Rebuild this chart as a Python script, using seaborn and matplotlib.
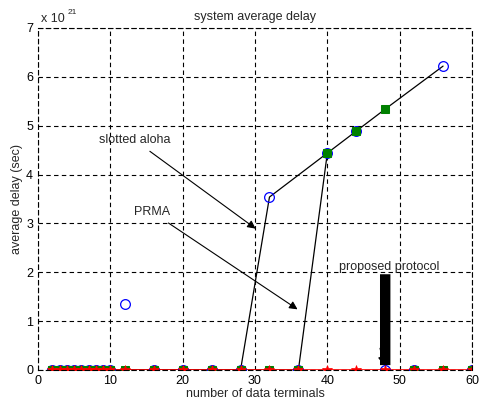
import matplotlib
matplotlib.use("Agg")
import matplotlib.pyplot as plt
import seaborn as sns

# Data (delay in units of 1e21 s)
terminals = [2, 3, 4, 5, 6, 7, 8, 9, 10, 12, 16, 20, 24, 28, 32, 36, 40, 44, 48, 52, 56, 60]

# marker-only series
blue_delay = [0, 0, 0, 0, 0, 0, 0, 0, 0, 1.35, 0, 0, 0, 0, 3.54, 0, 4.44, 4.89, 0, 0, 6.22, 0]
green_delay = [0, 0, 0, 0, 0, 0, 0, 0, 0, 0, 0, 0, 0, 0, 0, 0, 4.44, 4.89, 5.34, 0, 0, 0]
red_delay = [0] * 22

# line series
aloha_x = [2, 3, 4, 5, 6, 7, 8, 9, 10, 12, 16, 20, 24, 28, 32, 40, 44, 48, 56]
aloha_y = [0, 0, 0, 0, 0, 0, 0, 0, 0, 0, 0, 0, 0, 0, 3.54, 4.44, 4.89, 5.34, 6.22]
prma_x = [2, 3, 4, 5, 6, 7, 8, 9, 10, 12, 16, 20, 24, 28, 32, 36, 40]
prma_y = [0, 0, 0, 0, 0, 0, 0, 0, 0, 0, 0, 0, 0, 0, 0, 0, 4.44]
proposed_x = terminals
proposed_y = red_delay

sns.set_style("white")
plt.rcParams['font.family'] = ['Liberation Sans', 'DejaVu Sans']
plt.rcParams['font.size'] = 9

fig = plt.figure(figsize=(4.79, 4.09), dpi=100)
ax = fig.add_axes([38 / 479, 1 - 370 / 409, 434 / 479, 342 / 409])

# lines
sns.lineplot(x=aloha_x, y=aloha_y, color='black', lw=0.9, ax=ax)
sns.lineplot(x=prma_x, y=prma_y, color='black', lw=0.9, ax=ax)
sns.lineplot(x=proposed_x, y=proposed_y, color='red', lw=1.2, ax=ax)

# markers
sns.lineplot(x=terminals, y=blue_delay, marker='o', linestyle='', markersize=7,
             markerfacecolor='none', markeredgecolor='blue', markeredgewidth=0.9, ax=ax)
sns.lineplot(x=terminals, y=green_delay, marker='s', linestyle='', markersize=5.5,
             markerfacecolor='green', markeredgecolor='green', ax=ax)
sns.lineplot(x=terminals, y=red_delay, marker='*', linestyle='', markersize=7,
             markerfacecolor='red', markeredgecolor='red', markeredgewidth=0.5, ax=ax)

ax.set_xlim(0, 60)
ax.set_ylim(0, 7)
ax.set_xticks(range(0, 61, 10))
ax.set_yticks(range(0, 8))
ax.grid(True, color='black', linestyle=(0, (4, 3)), lw=0.8)
for s in ax.spines.values():
    s.set_linestyle((0, (4, 3)))
    s.set_color('black')
    s.set_linewidth(0.8)
ax.tick_params(direction='in', length=3, width=0.6, colors='black', labelsize=9)

ax.set_title('system average delay', fontsize=9, pad=6)
ax.set_xlabel('number of data terminals', fontsize=9, labelpad=1)
ax.set_ylabel('average delay (sec)', fontsize=9, labelpad=2)
ax.text(0.008, 1.008, 'x 10', transform=ax.transAxes, fontsize=9, va='bottom')
ax.text(0.068, 1.035, '21', transform=ax.transAxes, fontsize=6, va='bottom')

# annotations
arrow = dict(arrowstyle='-|>', color='black', lw=0.8, mutation_scale=12)
ax.annotate('slotted aloha', xy=(30.4, 2.86), xytext=(13.4, 4.7),
            ha='center', va='center', fontsize=9, arrowprops=arrow)
ax.annotate('PRMA', xy=(36.2, 1.21), xytext=(15.8, 3.23),
            ha='center', va='center', fontsize=9, arrowprops=arrow)
ax.text(48.6, 2.1, 'proposed protocol', ha='center', va='center', fontsize=9)
ax.annotate('', xy=(48.0, 0.1), xytext=(48.0, 1.96),
            arrowprops=dict(arrowstyle='-', color='black', lw=7.5, shrinkA=0, shrinkB=0,
                            capstyle='butt'))
ax.annotate('', xy=(47.9, 0.05), xytext=(47.2, 0.5),
            arrowprops=dict(arrowstyle='-|>', color='black', lw=0.8, mutation_scale=12))

fig.savefig('out.png', dpi=100)
